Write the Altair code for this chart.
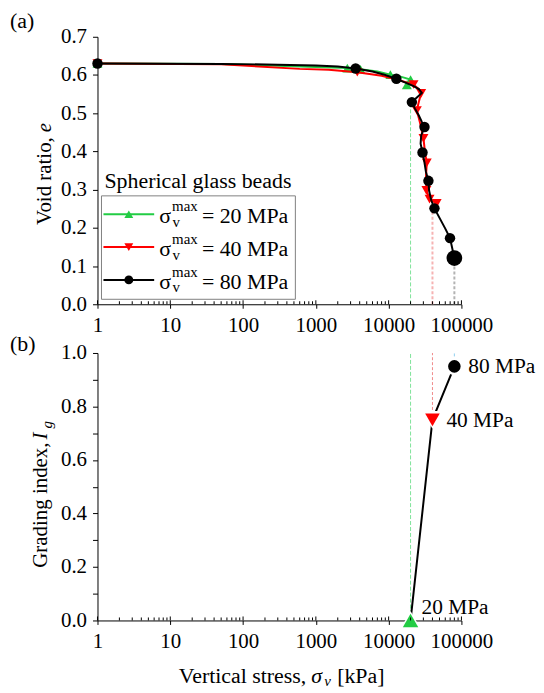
import altair as alt
import pandas as pd

FONT = "Liberation Serif"
GREEN = "#22cc44"
RED = "#ff0000"
BLACK = "#000000"

# ---------------- panel (a): void ratio vs vertical stress ----------------
g_line_s = [1, 50, 300, 1000, 2710, 4100, 7000, 10570, 15000, 20000, 17800]
g_line_e = [0.630, 0.629, 0.624, 0.621, 0.618, 0.615, 0.609, 0.601, 0.595, 0.588, 0.574]
g_mark_s = [1, 2710, 4100, 10570, 20000, 17800]
g_mark_e = [0.630, 0.618, 0.615, 0.601, 0.588, 0.574]

r_line_s = [1, 50, 600, 1500, 3710, 8000, 13000, 22000, 26500, 28000, 26000, 24400, 27000,
            30100, 31500, 33400, 32500, 33000, 36500, 45700]
r_line_e = [0.630, 0.628, 0.616, 0.614, 0.607, 0.598, 0.588, 0.575, 0.562, 0.552, 0.530, 0.507,
            0.475, 0.434, 0.400, 0.370, 0.330, 0.298, 0.275, 0.264]
r_mark_s = [1, 3710, 22000, 28000, 24400, 30100, 33400, 33000, 36500, 45700]
r_mark_e = [0.630, 0.607, 0.575, 0.552, 0.507, 0.434, 0.370, 0.298, 0.275, 0.264]

b_line_s = [1, 50, 300, 1000, 2000, 3520, 6000, 9000, 12770, 17000, 22000, 26000, 28570, 24000,
            20850, 23000, 26000, 28500, 31100, 28000, 27500, 29200, 31000, 32500, 35200, 36000,
            38500, 42600, 50000, 60000, 69700, 80000]
b_line_e = [0.630, 0.629, 0.627, 0.625, 0.622, 0.617, 0.609, 0.600, 0.590, 0.580, 0.571, 0.563,
            0.553, 0.540, 0.529, 0.512, 0.494, 0.478, 0.464, 0.442, 0.420, 0.397, 0.372, 0.347,
            0.323, 0.297, 0.272, 0.251, 0.226, 0.198, 0.173, 0.121]
b_mark_s = [1, 3520, 12770, 20850, 31100, 29200, 35200, 42600, 69700]
b_mark_e = [0.630, 0.617, 0.590, 0.529, 0.464, 0.397, 0.323, 0.251, 0.173]
b_end_s = [80000]
b_end_e = [0.121]

drop_a_s = [20000, 40000, 80000]
drop_a_top = [0.525, 0.250, 0.120]

series_names = ["20 MPa", "40 MPa", "80 MPa"]

# ---------------- panel (b): grading index ----------------
ig_s = [20000, 40000, 80000]
ig_v = [0.0, 0.75, 0.95]
ig_labels = ["20 MPa", "40 MPa", "80 MPa"]
drop_b_lo = [0.0, 0.75, 0.95]
drop_b_hi = [1.0, 1.0, 1.0]

x_major = [1, 10, 100, 1000, 10000, 100000]
x_minor = [m * 10 ** k for k in range(5) for m in range(2, 10)]
ya_ticks = [0.0, 0.1, 0.2, 0.3, 0.4, 0.5, 0.6, 0.7]
yb_ticks = [0.0, 0.1, 0.2, 0.3, 0.4, 0.5, 0.6, 0.7, 0.8, 0.9, 1.0]

W, H = 366, 269
one = pd.DataFrame({"k": [0]})

xscale = alt.Scale(type="log", domain=[1, 100000.01], nice=False)
ya_scale = alt.Scale(domain=[0, 0.7], nice=False, zero=False)
yb_scale = alt.Scale(domain=[0, 1.0], nice=False, zero=False)

xaxis = alt.Axis(values=x_major, format="d", title=None, tickSize=4, labelPadding=6,
                 labelOverlap=False, labelFlush=False)
ya_axis = alt.Axis(values=ya_ticks, format=".1f", title=None, tickSize=5, labelPadding=6)
yb_axis = alt.Axis(values=yb_ticks, title=None, tickSize=5, labelPadding=6,
                   labelExpr="round(datum.value*10) % 2 == 0 ? format(datum.value, '.1f') : ''")


def X(f):
    return alt.X(f, type="quantitative", scale=xscale, axis=xaxis)


def YA(f):
    return alt.Y(f, type="quantitative", scale=ya_scale, axis=ya_axis)


def YB(f):
    return alt.Y(f, type="quantitative", scale=yb_scale, axis=yb_axis)


def txt(text, x, y, size=21, align="left", baseline="alphabetic", angle=0, style="normal"):
    kw = dict(text=text, font=FONT, fontSize=size, align=align, baseline=baseline,
              color="black", fontStyle=style)
    if angle:
        kw["angle"] = angle
    return alt.Chart(one).mark_text(**kw).encode(x=alt.value(x), y=alt.value(y))


def inward_ticks():
    minor = alt.Chart(pd.DataFrame({"t": x_minor})).mark_rule(color="black", strokeWidth=1).encode(
        x=X("t"), y=alt.value(H), y2=alt.value(H - 3))
    major = alt.Chart(pd.DataFrame({"t": x_major})).mark_rule(color="black", strokeWidth=1).encode(
        x=X("t"), y=alt.value(H), y2=alt.value(H - 4))
    return [minor, major]


def series_layers(ls, le, ms, me, color, shape, size):
    d_line = pd.DataFrame({"s": ls, "e": le, "i": list(range(len(ls)))})
    d_mark = pd.DataFrame({"s": ms, "e": me})
    line = alt.Chart(d_line).mark_line(color=color, strokeWidth=2).encode(
        x=X("s"), y=YA("e"), order=alt.Order("i:Q"))
    pts = alt.Chart(d_mark).mark_point(filled=True, shape=shape, size=size, color=color,
                                       opacity=1).encode(x=X("s"), y=YA("e"))
    return [line, pts]


# ---- panel (a) layers ----
a_layers = []
drop_styles = [("#7fe39a", [4, 2], 1), ("#f6b3b3", [3, 2], 2), ("#b3b3b3", [3, 2], 2)]
for s, top, (c, dash, w) in zip(drop_a_s, drop_a_top, drop_styles):
    a_layers.append(alt.Chart(pd.DataFrame({"s": [s], "y0": [0.0], "y1": [top]})).mark_rule(
        color=c, strokeDash=dash, strokeWidth=w).encode(x=X("s"), y=YA("y0"), y2="y1:Q"))

a_layers += series_layers(g_line_s, g_line_e, g_mark_s, g_mark_e, GREEN, "triangle-up", 100)
a_layers += series_layers(r_line_s, r_line_e, r_mark_s, r_mark_e, RED, "triangle-down", 100)
a_layers += series_layers(b_line_s, b_line_e, b_mark_s, b_mark_e, BLACK, "circle", 110)
a_layers.append(alt.Chart(pd.DataFrame({"s": b_end_s, "e": b_end_e})).mark_point(
    filled=True, shape="circle", size=250, color=BLACK, opacity=1).encode(x=X("s"), y=YA("e")))
a_layers += inward_ticks()

# legend (drawn by hand for the sigma_v^max labels)
a_layers.append(txt("Spherical glass beads", 7, 152, size=22))
a_layers.append(alt.Chart(one).mark_rect(fill="white", stroke="#808080", strokeWidth=1).encode(
    x=alt.value(4), x2=alt.value(199), y=alt.value(160), y2=alt.value(264)))
rows = [178.5, 211.5, 244.5]
leg = [(GREEN, "triangle-up"), (RED, "triangle-down"), (BLACK, "circle")]
for ry, (c, shp), name in zip(rows, leg, series_names):
    a_layers.append(alt.Chart(one).mark_rule(color=c, strokeWidth=2).encode(
        x=alt.value(6), x2=alt.value(57), y=alt.value(ry)))
    a_layers.append(alt.Chart(one).mark_point(filled=True, shape=shp, size=80, color=c,
                                              opacity=1).encode(x=alt.value(31.5), y=alt.value(ry)))
    a_layers.append(txt("σ", 62, ry + 9, size=22))
    a_layers.append(txt("max", 75, ry - 3, size=15))
    a_layers.append(txt("v", 75.5, ry + 12.5, size=15))
    a_layers.append(txt("= " + name, 105, ry + 9, size=22))

# y title + panel label
a_layers.append(txt("Void ratio,", -47, 101, angle=270, align="right"))
a_layers.append(txt("e", -47, 96, angle=270, align="left", style="italic"))
a_layers.append(txt("(a)", -88, -26, size=22, baseline="top"))

panel_a = alt.layer(*a_layers).properties(width=W, height=H)

# ---- panel (b) layers ----
b_layers = []
drop_b_styles = [("#7fe39a", [4, 2], 1), ("#f08a8a", [3, 2], 1), ("#8fd0f0", [3, 2], 1)]
for s, lo, hi, (c, dash, w) in zip(ig_s, drop_b_lo, drop_b_hi, drop_b_styles):
    b_layers.append(alt.Chart(pd.DataFrame({"s": [s], "y0": [lo], "y1": [hi]})).mark_rule(
        color=c, strokeDash=dash, strokeWidth=w).encode(x=X("s"), y=YB("y0"), y2="y1:Q"))

d_ig = pd.DataFrame({"s": ig_s, "v": ig_v, "lab": ig_labels, "i": [0, 1, 2]})
b_layers.append(alt.Chart(d_ig).mark_line(color=BLACK, strokeWidth=2).encode(
    x=X("s"), y=YB("v"), order=alt.Order("i:Q")))
b_shapes = [("triangle-up", GREEN, 240, 480), ("triangle-down", RED, 215, 430),
            ("circle", BLACK, 160, 310)]
for i, (shp, c, sz, halo) in enumerate(b_shapes):
    d1 = d_ig.iloc[[i]]
    b_layers.append(alt.Chart(d1).mark_point(filled=True, shape=shp, size=halo, color="white",
                                             opacity=1).encode(x=X("s"), y=YB("v")))
    b_layers.append(alt.Chart(d1).mark_point(filled=True, shape=shp, size=sz, color=c,
                                             opacity=1).encode(x=X("s"), y=YB("v")))
b_layers.append(alt.Chart(d_ig.iloc[[1, 2]]).mark_text(
    font=FONT, fontSize=21.5, align="left", baseline="middle", dx=14, dy=1).encode(
    x=X("s"), y=YB("v"), text="lab:N"))
b_layers.append(alt.Chart(d_ig.iloc[[0]]).mark_text(
    font=FONT, fontSize=21.5, align="left", baseline="middle", dx=11, dy=-13).encode(
    x=X("s"), y=YB("v"), text="lab:N"))
b_layers += inward_ticks()

b_layers.append(txt("Grading index,", -51, 90, angle=270, align="right"))
b_layers.append(txt("I", -51, 87, angle=270, align="left", style="italic"))
b_layers.append(txt("g", -46, 76, size=15, angle=270, align="left", style="italic"))
b_layers.append(txt("Vertical stress,", 210, 332, size=22, align="right"))
b_layers.append(txt("σ", 215, 332, size=22, style="italic"))
b_layers.append(txt("v", 228, 335, size=15, style="italic"))
b_layers.append(txt("[kPa]", 241, 332, size=22))
b_layers.append(txt("(b)", -88, -19, size=22, baseline="top"))

panel_b = alt.layer(*b_layers).properties(width=W, height=H)

chart = alt.vconcat(panel_a, panel_b, spacing=49, bounds="flush").properties(
    padding={"left": 2, "top": 0, "right": 0, "bottom": 0}
).configure(font=FONT).configure_view(stroke=None).configure_axis(
    labelFont=FONT, labelFontSize=21, labelColor="black", domainColor="black",
    tickColor="black", grid=False, domainWidth=1, tickWidth=1
)

chart.save("out.html", embed_options={"renderer": "svg", "actions": False})
